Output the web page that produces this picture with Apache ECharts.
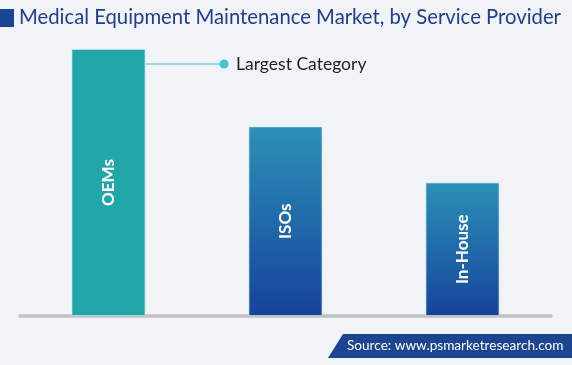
<!DOCTYPE html>
<html>
<head>
<meta charset="utf-8">
<script src="https://cdn.jsdelivr.net/npm/echarts@6/dist/echarts.min.js"></script>
<style>html,body{margin:0;padding:0;background:#f2f3f7;}#c{width:572px;height:365px;}</style>
</head>
<body>
<div id="c"></div>
<script>
const titleText = "Medical Equipment Maintenance Market, by Service Provider";
const categories = ["OEMs", "ISOs", "In-House"];
const values = [100, 71, 50];
const annotationText = "Largest Category";
const annotationValue = 94.4;
const sourceText = "Source: www.psmarketresearch.com";

const chart = echarts.init(document.getElementById('c'), null, {renderer: 'canvas'});
const blueGrad = new echarts.graphic.LinearGradient(0, 0, 0, 1, [
  {offset: 0, color: '#2c90b9'},
  {offset: 1, color: '#15439a'}
]);
const barColors = ['#21a6aa', blueGrad, blueGrad];

chart.setOption({
  backgroundColor: '#f2f3f7',
  animation: false,
  grid: {left: 20, right: 21, top: 49, bottom: 49},
  xAxis: {
    type: 'category',
    data: categories,
    axisLine: {show: true, lineStyle: {color: '#c2c2c6', width: 3.5}},
    axisTick: {show: false},
    axisLabel: {show: false}
  },
  yAxis: {
    type: 'value', min: 0, max: 100,
    show: false, splitLine: {show: false}
  },
  series: [{
    type: 'bar',
    barWidth: 74,
    data: values.map((v, i) => ({
      value: v,
      itemStyle: {color: barColors[i]}
    })),
    itemStyle: {borderColor: 'rgba(190,225,235,0.7)', borderWidth: 1},
    label: {
      show: true,
      position: 'inside',
      rotate: 90,
      formatter: p => categories[p.dataIndex],
      color: '#ffffff',
      fontFamily: 'Lato',
      fontWeight: 'bold',
      fontSize: 17
    }
  }]
});

// annotation connected to the largest bar
const p = chart.convertToPixel({seriesIndex: 0}, [0, annotationValue]);
const barRight = p[0] + 37;
const dotX = 224;
chart.setOption({
  graphic: [
    {type: 'rect', shape: {x: 0, y: 9, width: 14, height: 18}, style: {fill: '#1b4594'}},
    {type: 'text', left: 19, top: 7, style: {text: titleText, fill: '#1d3f8e', font: '20.3px Lato'}},
    {type: 'polygon', shape: {points: [[328, 358], [343, 334], [572, 334], [572, 358]]}, style: {fill: '#1b4590'}},
    {type: 'text', left: 347, top: 339, style: {text: sourceText, fill: '#ffffff', font: '13.6px Lato'}},
    {type: 'line', shape: {x1: barRight, y1: p[1], x2: dotX, y2: p[1]}, style: {stroke: '#95dbe5', lineWidth: 2}},
    {type: 'circle', shape: {cx: dotX, cy: p[1], r: 4.5}, style: {fill: '#45c3d5'}},
    {type: 'text', x: 236, y: p[1], style: {text: annotationText, fill: '#222222', font: '17.5px Lato', verticalAlign: 'middle'}}
  ]
});
</script>
</body>
</html>
